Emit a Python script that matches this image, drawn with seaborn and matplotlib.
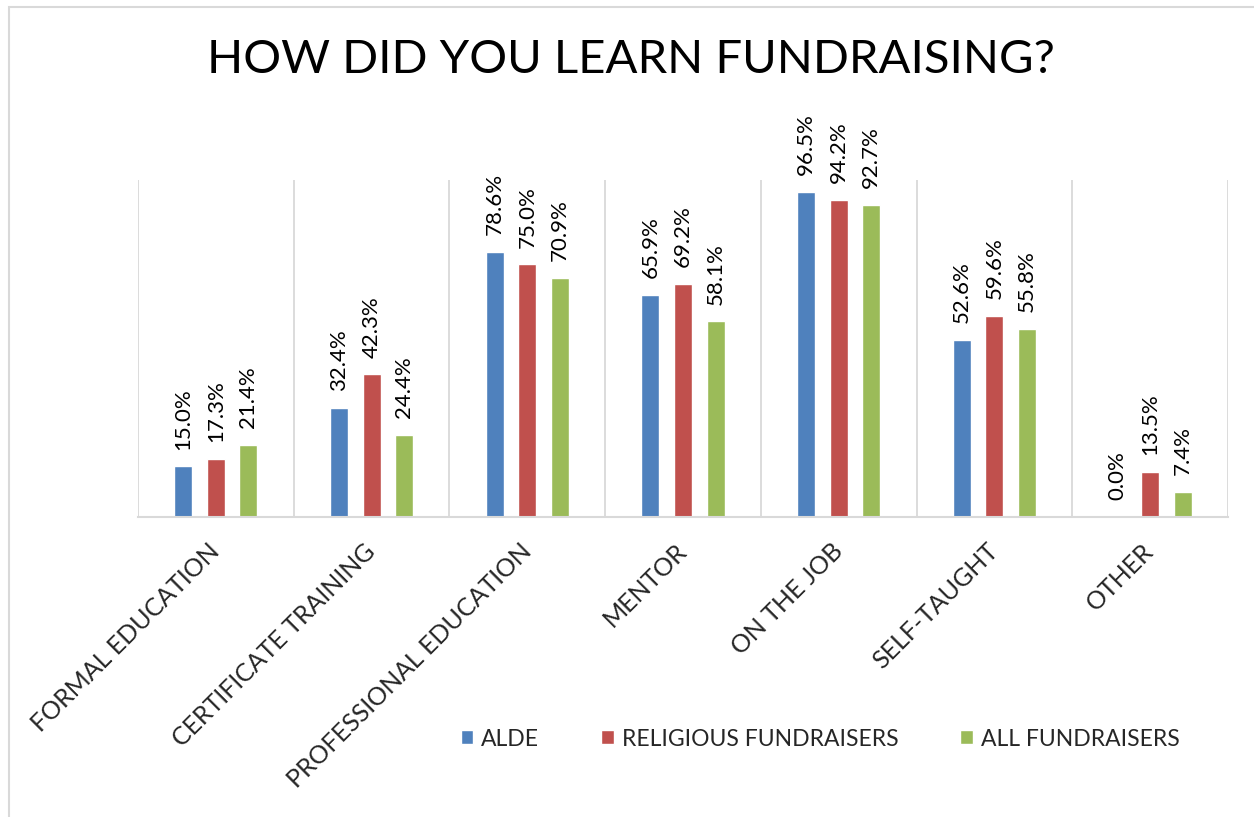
import numpy as np
import pandas as pd
import matplotlib
matplotlib.use("Agg")
import matplotlib.pyplot as plt
from matplotlib.patches import Rectangle
import seaborn as sns

# -----------------------------
# Data
# -----------------------------

categories = [
    "FORMAL EDUCATION",
    "CERTIFICATE TRAINING",
    "PROFESSIONAL EDUCATION",
    "MENTOR",
    "ON THE JOB",
    "SELF-TAUGHT",
    "OTHER",
]
series_names = ["ALDE", "RELIGIOUS FUNDRAISERS", "ALL FUNDRAISERS"]
alde = [15.0, 32.4, 78.6, 65.9, 96.5, 52.6, 0.0]
religious = [17.3, 42.3, 75.0, 69.2, 94.2, 59.6, 13.5]
all_fundraisers = [21.4, 24.4, 70.9, 58.1, 92.7, 55.8, 7.4]
colors = ["#4F81BD", "#C0504D", "#9BBB59"]

rows = []
for name, vals in zip(series_names, [alde, religious, all_fundraisers]):
    for cat, v in zip(categories, vals):
        rows.append({"category": cat, "group": name, "pct": v})
data = pd.DataFrame(rows)

# -----------------------------
# Plot
# -----------------------------

sns.set_style("white")
plt.rcParams["font.family"] = ["Lato", "DejaVu Sans"]

fig = plt.figure(figsize=(12.54, 8.17), dpi=100)
ax = fig.add_axes([138 / 1254, 1 - 517 / 817, (1228 - 138) / 1254, (517 - 180) / 817])

sns.barplot(
    data=data, x="category", y="pct", hue="group",
    order=categories, hue_order=series_names,
    palette=colors, width=0.627, gap=0.445,
    saturation=1, errorbar=None, ax=ax, legend=True,
)

for cont in ax.containers:
    ax.bar_label(
        cont, labels=[f"{b.get_height():.1f}%" for b in cont],
        rotation=90, padding=12, fontsize=16, color="#000000",
    )

ax.set_ylim(0, 100)
ax.set_xlim(-0.5, 6.5)
ax.set_yticks([])
ax.set_xlabel("")
ax.set_ylabel("")

ax.set_xticks(np.arange(-0.5, 7, 1), minor=True)
ax.grid(axis="x", which="minor", color="#D9D9D9", linewidth=1.3)
ax.grid(axis="x", which="major", visible=False)
ax.tick_params(axis="x", which="both", length=0)
ax.tick_params(axis="x", which="major", pad=22)
plt.setp(ax.get_xticklabels(), rotation=45, ha="right", va="center",
         rotation_mode="anchor", fontsize=18)

for side in ["top", "left", "right"]:
    ax.spines[side].set_visible(False)
ax.spines["bottom"].set_color("#D9D9D9")
ax.spines["bottom"].set_linewidth(1.5)

handles, labels = ax.get_legend_handles_labels()
ax.legend_.remove()
fig.legend(
    handles, labels, loc="center", ncol=3, frameon=False,
    bbox_to_anchor=(820 / 1254, 78 / 817), bbox_transform=fig.transFigure,
    fontsize=16.5, handlelength=0.55, handleheight=0.55,
    handletextpad=0.35, columnspacing=2.7,
)

fig.text(631 / 1254, 1 - 60 / 817, "HOW DID YOU LEARN FUNDRAISING?",
         ha="center", va="center", fontsize=34, color="#000000")

# light chart border (top and left visible)
fig.add_artist(Rectangle((9 / 1254, -0.1), 1.2, 0.1 + (817 - 7) / 817,
                         transform=fig.transFigure, fill=False,
                         edgecolor="#D9D9D9", linewidth=1.5))

fig.savefig("out.png", dpi=100)
